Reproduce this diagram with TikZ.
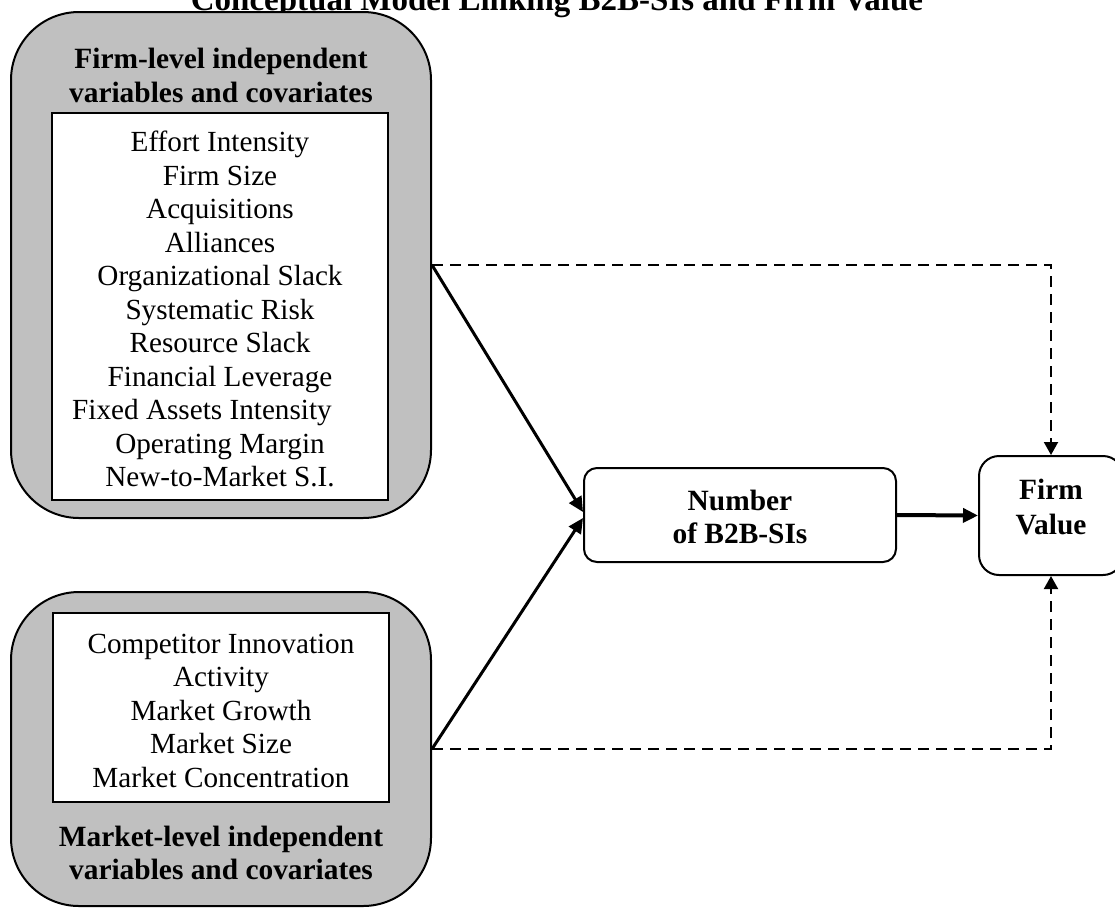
\documentclass[tikz,border=0pt]{standalone}
\usepackage{fontspec}
\setmainfont{Liberation Serif}
\usetikzlibrary{arrows.meta,calc}
\definecolor{boxgray}{RGB}{192,192,192}
\begin{document}
\begin{tikzpicture}[x=0.5pt,y=-0.5pt,
  outerbox/.style={draw=black,line width=1pt,fill=boxgray,rounded corners=34pt,
    minimum width=210pt,inner sep=0pt},
  innerbox/.style={draw=black,line width=1pt,fill=white,minimum width=168pt,inner sep=0pt},
  listtext/.style={font=\fontsize{14.6pt}{16.75pt}\selectfont,inner sep=0pt,anchor=base},
  headtext/.style={font=\bfseries\fontsize{14.7pt}{16.8pt}\selectfont,inner sep=0pt,anchor=base},
  roundbox/.style={draw=black,line width=1pt,fill=white,inner sep=0pt},
  solidarrow/.style={line width=1.5pt,-{Triangle[length=7.5pt,width=7pt]}},
  dasharrow/.style={line width=1pt,dash pattern=on 5.5pt off 3.5pt,
    -{Triangle[length=6.5pt,width=7pt]}}
]
\useasboundingbox (0,0) rectangle (1115,907);

% title (partly cut by the page edge, as in the reference)
\node[font=\bfseries\fontsize{16.5pt}{19pt}\selectfont,inner sep=0pt,anchor=base] (title)
  at (557,10) {Conceptual Model Linking B2B-SIs and Firm Value};

% upper group
\node[outerbox,minimum height=253pt] (ub) at (221,265) {};
\node[headtext] (uh1) at (221,68.5) {Firm-level independent};
\node[headtext] (uh2) at (221,102) {variables and covariates};
\node[innerbox,minimum height=193.5pt] (ui) at (220,306.5) {};
\foreach \t/\dx [count=\i from 0] in {Effort Intensity/0,Firm Size/0,Acquisitions/0,
  Alliances/0,Organizational Slack/0,Systematic Risk/0,Resource Slack/0,
  Financial Leverage/0,Fixed Assets Intensity/-18,Operating Margin/0,New-to-Market S.I./0}
  \node[listtext] (f\i) at ({220+\dx},{151.7+33.5*\i}) {\t};

% lower group
\node[outerbox,minimum height=157pt] (lb) at (221,749) {};
\node[innerbox,minimum height=94.5pt] (li) at (220.5,707.5) {};
\foreach \t [count=\i from 0] in {Competitor Innovation,Activity,Market Growth,
  Market Size,Market Concentration}
  \node[listtext] (m\i) at (221,{653+33.5*\i}) {\t};
\node[headtext] (lh1) at (221,846.5) {Market-level independent};
\node[headtext] (lh2) at (221,879.5) {variables and covariates};

% number of B2B-SIs
\node[roundbox,rounded corners=6.5pt,minimum width=156pt,minimum height=47pt] (nb) at (740,515) {};
\node[headtext] (nb1) at (740,510) {Number};
\node[headtext] (nb2) at (740,543) {of B2B-SIs};

% firm value
\node[roundbox,rounded corners=10pt,minimum width=72pt,minimum height=59.5pt] (fv) at (1051,515.5) {};
\node[headtext] (fv1) at (1051,499) {Firm};
\node[headtext] (fv2) at (1051,534) {Value};

% connectors
\draw[solidarrow] (ub.east) -- ($(nb.west)+(0,-3)$);
\draw[solidarrow] (lb.east) -- ($(nb.west)+(0,3)$);
\draw[solidarrow,line width=2pt] (nb.east) -- (fv.west);
\draw[dasharrow] (ub.east) -- (ub.east -| fv.north) -- (fv.north);
\draw[dasharrow] (lb.east) -- (lb.east -| fv.south) -- (fv.south);
\end{tikzpicture}
\end{document}
